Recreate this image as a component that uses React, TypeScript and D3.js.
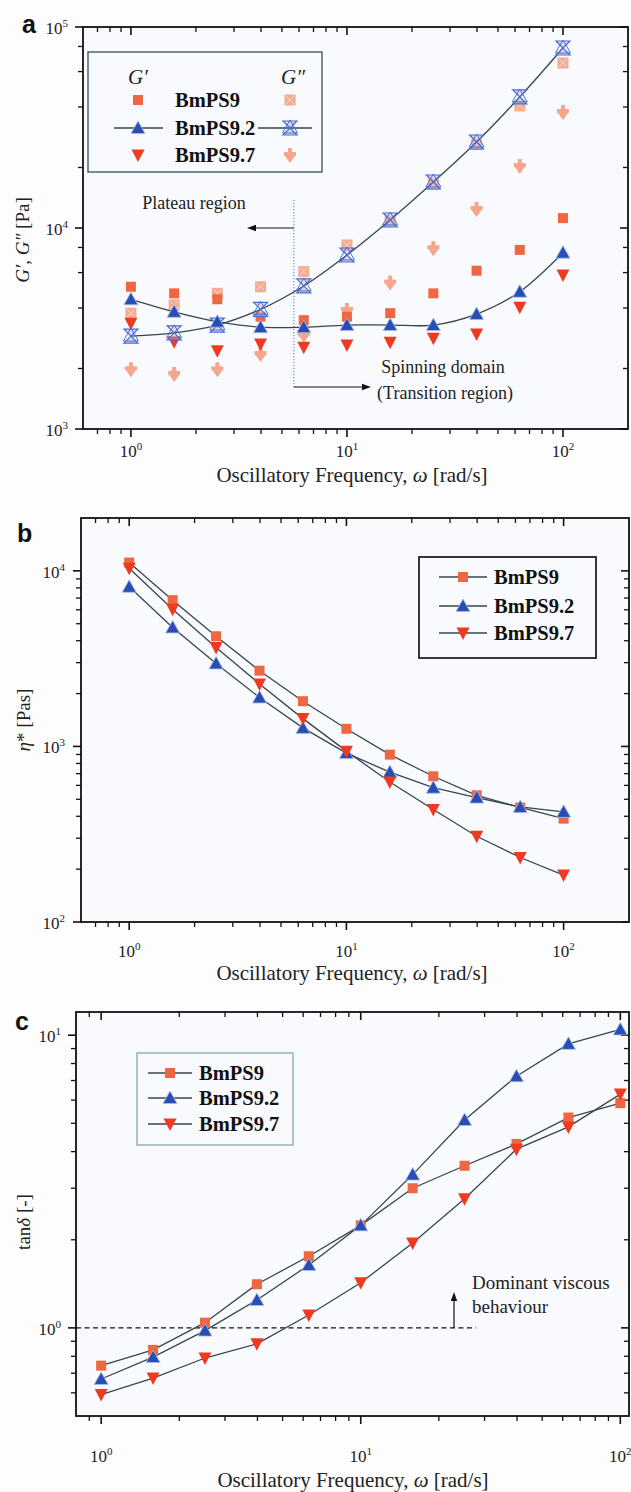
import React from 'react';
import * as d3 from 'd3';

// ---------- data ----------
const freq = [1, 1.585, 2.512, 3.981, 6.31, 10, 15.85, 25.12, 39.81, 63.1, 100];
const seriesNames = ['BmPS9', 'BmPS9.2', 'BmPS9.7'];

// panel a: G' and G''
const gp9 = [5100, 4730, 4420, 3620, 3480, 3620, 3770, 4730, 6130, 7780, 11200];
const gpp9 = [3770, 4140, 4730, 5100, 6070, 8230, 10800, 16500, 26000, 40500, 66200];
const gp92 = [4420, 3830, 3420, 3210, 3210, 3290, 3290, 3290, 3730, 4820, 7540];
const gpp92 = [2900, 3010, 3290, 3940, 5150, 7340, 10960, 16940, 26780, 44870, 78600];
const gp97 = [3360, 2720, 2450, 2650, 2550, 2620, 2700, 2830, 2970, 4030, 5840];
const gpp97 = [1980, 1880, 1980, 2360, 2940, 3910, 5350, 7930, 12430, 20330, 37760];

// panel b: complex viscosity
const eta9 = [11150, 6810, 4240, 2700, 1810, 1260, 898, 676, 527, 449, 388];
const eta92 = [8110, 4760, 2970, 1900, 1275, 916, 714, 582, 511, 452, 424];
const eta97 = [10360, 6050, 3660, 2270, 1440, 940, 627, 437, 308, 233, 185];

// panel c: tan delta
const tan9 = [0.743, 0.841, 1.042, 1.41, 1.757, 2.24, 3.0, 3.58, 4.25, 5.23, 5.86];
const tan92 = [0.669, 0.795, 0.979, 1.245, 1.64, 2.24, 3.34, 5.13, 7.24, 9.34, 10.46];
const tan97 = [0.592, 0.674, 0.789, 0.882, 1.107, 1.426, 1.95, 2.76, 4.08, 4.86, 6.29];

const xLabel = 'Oscillatory Frequency, ';
const annPlateau = 'Plateau region';
const annSpin1 = 'Spinning domain';
const annSpin2 = '(Transition region)';
const annVisc1 = 'Dominant viscous';
const annVisc2 = 'behaviour';

// ---------- styles ----------
const SERIF = "'Liberation Serif','Times New Roman',serif";
const SANS = "'Liberation Sans',Arial,sans-serif";
const LINE = '#35474d';
const C_SQ = '#ef6742';
const C_SQL = '#f5aa92';
const C_TRI = '#2a4db3';
const C_DN = '#ef3a22';
const C_DNL = '#f4a58c';
const C_STAR = '#3f6fd6';

type Box = { l: number; r: number; t: number; b: number };

function majors(dom: number[]) {
  const out: number[] = [];
  for (let e = Math.ceil(Math.log10(dom[0]) - 1e-9); e <= Math.floor(Math.log10(dom[1]) + 1e-9); e++) out.push(Math.pow(10, e));
  return out;
}
function minors(dom: number[], mults: number[]) {
  const out: number[] = [];
  for (let e = Math.floor(Math.log10(dom[0])) - 1; e <= Math.ceil(Math.log10(dom[1])); e++) {
    for (const m of mults) {
      const v = m * Math.pow(10, e);
      if (v >= dom[0] * 1.001 && v <= dom[1] * 0.999) out.push(v);
    }
  }
  return out;
}

function Marker({ kind, x, y }: { kind: string; x: number; y: number }) {
  if (kind === 'sq') return <rect x={x - 5} y={y - 5} width={10} height={10} fill={C_SQ} />;
  if (kind === 'sqL')
    return (
      <g>
        <rect x={x - 5.5} y={y - 5.5} width={11} height={11} fill={C_SQL} />
        <path d={`M${x - 4},${y - 4}L${x + 4},${y + 4}M${x + 4},${y - 4}L${x - 4},${y + 4}`} stroke="#fbd8cc" strokeWidth={1} />
      </g>
    );
  if (kind === 'up')
    return <path d={`M${x},${y - 7}L${x + 7},${y + 5.5}L${x - 7},${y + 5.5}Z`} fill={C_TRI} stroke="#a8bcef" strokeWidth={0.8} />;
  if (kind === 'dn')
    return <path d={`M${x - 6.5},${y - 5.5}L${x + 6.5},${y - 5.5}L${x},${y + 7}Z`} fill={C_DN} />;
  if (kind === 'dnL')
    return (
      <g fill={C_DNL}>
        <rect x={x - 6} y={y - 3} width={12} height={4} />
        <rect x={x - 2} y={y - 7} width={4} height={8} />
        <path d={`M${x - 5},${y + 1}L${x + 5},${y + 1}L${x},${y + 8}Z`} />
      </g>
    );
  if (kind === 'star')
    return (
      <g>
        <path d={`M${x - 7},${y - 7}L${x + 7},${y - 7}L${x - 7},${y + 7}L${x + 7},${y + 7}Z`} fill="#e8b8c8" fillOpacity={0.6} stroke={C_STAR} strokeWidth={1.2} />
        <path d={`M${x},${y - 8}L${x + 7.5},${y + 5}L${x - 7.5},${y + 5}Z`} fill="none" stroke={C_STAR} strokeWidth={1} />
      </g>
    );
  return null;
}

function TickLabel({ x, y, exp, anchor }: { x: number; y: number; exp: number; anchor: string }) {
  return (
    <text x={x} y={y} textAnchor={anchor} fontFamily={SERIF} fontSize={17} fill="#222">
      10<tspan dy={-7} fontSize={11}>{exp}</tspan>
    </text>
  );
}

function Axes({ box, xs, ys, xDom, yDom, yMults, xTickY, yTickX }: any) {
  const xMaj = majors(xDom);
  const xMin = minors(xDom, [2, 3, 4, 5, 6, 7, 8, 9]);
  const yMaj = majors(yDom);
  const yMin = minors(yDom, yMults);
  const M = 8;
  const m = 5;
  return (
    <g>
      <rect x={box.l} y={box.t} width={box.r - box.l} height={box.b - box.t} fill="#f9fafd" stroke="#111" strokeWidth={1.8} />
      {xMaj.map((v) => (
        <g key={'xM' + v}>
          <line x1={xs(v)} x2={xs(v)} y1={box.b} y2={box.b + M} stroke="#111" strokeWidth={1.6} />
          <line x1={xs(v)} x2={xs(v)} y1={box.t} y2={box.t + M} stroke="#111" strokeWidth={1.6} />
          <TickLabel x={xs(v)} y={xTickY} exp={Math.round(Math.log10(v))} anchor="middle" />
        </g>
      ))}
      {xMin.map((v) => (
        <g key={'xm' + v}>
          <line x1={xs(v)} x2={xs(v)} y1={box.b} y2={box.b + m} stroke="#111" strokeWidth={1.3} />
          <line x1={xs(v)} x2={xs(v)} y1={box.t} y2={box.t + m} stroke="#111" strokeWidth={1.3} />
        </g>
      ))}
      {yMaj.map((v) => (
        <g key={'yM' + v}>
          <line x1={box.l - M} x2={box.l} y1={ys(v)} y2={ys(v)} stroke="#111" strokeWidth={1.6} />
          <line x1={box.r - M} x2={box.r} y1={ys(v)} y2={ys(v)} stroke="#111" strokeWidth={1.6} />
          <TickLabel x={yTickX} y={ys(v) + 7} exp={Math.round(Math.log10(v))} anchor="end" />
        </g>
      ))}
      {yMin.map((v) => (
        <g key={'ym' + v}>
          <line x1={box.l - m} x2={box.l} y1={ys(v)} y2={ys(v)} stroke="#111" strokeWidth={1.3} />
          <line x1={box.r - m} x2={box.r} y1={ys(v)} y2={ys(v)} stroke="#111" strokeWidth={1.3} />
        </g>
      ))}
    </g>
  );
}

function XTitle({ x, y }: { x: number; y: number }) {
  return (
    <text x={x} y={y} textAnchor="middle" fontFamily={SERIF} fontSize={21} fill="#222">
      {xLabel}
      <tspan fontStyle="italic">ω</tspan> [rad/s]
    </text>
  );
}

function Arrow({ x1, y1, x2, y2 }: { x1: number; y1: number; x2: number; y2: number }) {
  const ang = Math.atan2(y2 - y1, x2 - x1);
  const L = 9, W = 3.2;
  const bx = x2 - L * Math.cos(ang), by = y2 - L * Math.sin(ang);
  const px = -Math.sin(ang) * W, py = Math.cos(ang) * W;
  return (
    <g>
      <line x1={x1} y1={y1} x2={bx} y2={by} stroke="#111" strokeWidth={1.2} />
      <path d={`M${x2},${y2}L${bx + px},${by + py}L${bx - px},${by - py}Z`} fill="#111" />
    </g>
  );
}

function PanelA() {
  const box: Box = { l: 83, r: 628, t: 27, b: 429 };
  const xDom = [0.6, 200];
  const yDom = [1e3, 1e5];
  const xs = d3.scaleLog().domain(xDom).range([box.l, box.r]);
  const ys = d3.scaleLog().domain(yDom).range([box.b, box.t]);
  const line = d3.line<number>().x((_, i) => xs(freq[i])).y((d) => ys(d)).curve(d3.curveCatmullRom.alpha(0.5));
  const scatter: [number[], string][] = [
    [gpp97, 'dnL'],
    [gpp9, 'sqL'],
    [gp9, 'sq'],
    [gp97, 'dn'],
  ];
  const vx = xs(5.68);
  return (
    <g>
      <Axes box={box} xs={xs} ys={ys} xDom={xDom} yDom={yDom} yMults={[2, 4, 6, 8]} xTickY={457} yTickX={68} />
      <line x1={vx} x2={vx} y1={200} y2={387} stroke="#4d6fe0" strokeWidth={1} strokeDasharray="1.2,1.8" />
      <Arrow x1={vx} y1={228} x2={247} y2={228} />
      <Arrow x1={vx} y1={387} x2={371} y2={387} />
      <text x={194} y={209} textAnchor="middle" fontFamily={SERIF} fontSize={18} fill="#222">{annPlateau}</text>
      <text x={443} y={373} textAnchor="middle" fontFamily={SERIF} fontSize={18} fill="#222">{annSpin1}</text>
      <text x={445} y={399} textAnchor="middle" fontFamily={SERIF} fontSize={18} fill="#222">{annSpin2}</text>
      {scatter.map(([arr, k]) => arr.map((v, i) => <Marker key={k + i} kind={k} x={xs(freq[i])} y={ys(v)} />))}
      <path d={line(gp92) || ''} fill="none" stroke={LINE} strokeWidth={1.3} />
      <path d={line(gpp92) || ''} fill="none" stroke={LINE} strokeWidth={1.3} />
      {gpp92.map((v, i) => <Marker key={'st' + i} kind="star" x={xs(freq[i])} y={ys(v)} />)}
      {gp92.map((v, i) => <Marker key={'up' + i} kind="up" x={xs(freq[i])} y={ys(v)} />)}
      {/* legend */}
      <rect x={88} y={52} width={234} height={120} fill="#f9fafd" stroke="#4f6468" strokeWidth={1.5} />
      <text x={138} y={84} textAnchor="middle" fontFamily={SERIF} fontStyle="italic" fontSize={21} fill="#222">G′</text>
      <text x={293} y={84} textAnchor="middle" fontFamily={SERIF} fontStyle="italic" fontSize={21} fill="#222">G″</text>
      <line x1={114} x2={163} y1={128} y2={128} stroke={LINE} strokeWidth={1.3} />
      <line x1={258} x2={312} y1={128} y2={128} stroke={LINE} strokeWidth={1.3} />
      {[['sq', 'sqL'], ['up', 'star'], ['dn', 'dnL']].map(([a, b], i) => {
        const y = [100, 128, 155][i];
        return (
          <g key={'lg' + i}>
            <Marker kind={a} x={138} y={y} />
            <Marker kind={b} x={290} y={y} />
            <text x={175} y={y + 7} fontFamily={SERIF} fontWeight="bold" fontSize={20.5} fill="#111">{seriesNames[i]}</text>
          </g>
        );
      })}
      <text x={22} y={33} fontFamily={SANS} fontWeight="bold" fontSize={25} fill="#111">a</text>
      <text transform="translate(29,240) rotate(-90)" textAnchor="middle" fontFamily={SERIF} fontSize={19} fill="#222">
        <tspan fontStyle="italic">G′</tspan>, <tspan fontStyle="italic">G″</tspan> [Pa]
      </text>
      <XTitle x={352} y={482} />
    </g>
  );
}

function SeriesLines({ xs, ys, data }: any) {
  const line = d3.line<number>().x((_, i) => xs(freq[i])).y((d) => ys(d));
  const kinds = ['sq', 'up', 'dn'];
  return (
    <g>
      {data.map((arr: number[], s: number) => (
        <path key={'l' + s} d={line(arr) || ''} fill="none" stroke={LINE} strokeWidth={1.3} />
      ))}
      {data.map((arr: number[], s: number) =>
        arr.map((v, i) => <Marker key={'m' + s + '-' + i} kind={kinds[s]} x={xs(freq[i])} y={ys(v)} />)
      )}
    </g>
  );
}

function Legend({ x, y, w, h, mx, lx1, lx2, tx, rows, stroke, sw }: any) {
  const kinds = ['sq', 'up', 'dn'];
  return (
    <g>
      <rect x={x} y={y} width={w} height={h} fill="#f9fafd" stroke={stroke} strokeWidth={sw} />
      {rows.map((ry: number, i: number) => (
        <g key={'r' + i}>
          <line x1={lx1} x2={lx2} y1={ry} y2={ry} stroke={LINE} strokeWidth={1.3} />
          <Marker kind={kinds[i]} x={mx} y={ry} />
          <text x={tx} y={ry + 7} fontFamily={SERIF} fontWeight="bold" fontSize={20.5} fill="#111">{seriesNames[i]}</text>
        </g>
      ))}
    </g>
  );
}

function PanelB() {
  const box: Box = { l: 81, r: 629, t: 518, b: 922 };
  const xDom = [0.6, 200];
  const yDom = [100, 20000];
  const xs = d3.scaleLog().domain(xDom).range([box.l, box.r]);
  const ys = d3.scaleLog().domain(yDom).range([box.b, box.t]);
  return (
    <g>
      <Axes box={box} xs={xs} ys={ys} xDom={xDom} yDom={yDom} yMults={[2, 3, 4, 5, 6, 7, 8, 9]} xTickY={957} yTickX={65} />
      <SeriesLines xs={xs} ys={ys} data={[eta9, eta92, eta97]} />
      <Legend x={419} y={557} w={177} h={101} mx={463} lx1={439} lx2={487} tx={494} rows={[577, 606, 633]} stroke="#222" sw={1.8} />
      <text x={17} y={542} fontFamily={SANS} fontWeight="bold" fontSize={25} fill="#111">b</text>
      <text transform="translate(30,720) rotate(-90)" textAnchor="middle" fontFamily={SERIF} fontSize={19} fill="#222">
        <tspan fontStyle="italic">η</tspan>* [Pas]
      </text>
      <XTitle x={352} y={980} />
    </g>
  );
}

function PanelC() {
  const box: Box = { l: 76, r: 629, t: 1012, b: 1416 };
  const xDom = [0.8, 108];
  const yDom = [0.5, 12];
  const xs = d3.scaleLog().domain(xDom).range([box.l, box.r]);
  const ys = d3.scaleLog().domain(yDom).range([box.b, box.t]);
  const y1 = ys(1);
  return (
    <g>
      <Axes box={box} xs={xs} ys={ys} xDom={xDom} yDom={yDom} yMults={[2, 3, 4, 5, 6, 7, 8, 9]} xTickY={1462} yTickX={61} />
      <line x1={box.l} x2={476} y1={y1} y2={y1} stroke="#111" strokeWidth={1.3} strokeDasharray="5,3.5" />
      <Arrow x1={454} y1={y1} x2={454} y2={1292} />
      <text x={472} y={1289} fontFamily={SERIF} fontSize={19} fill="#222">{annVisc1}</text>
      <text x={472} y={1313} fontFamily={SERIF} fontSize={19} fill="#222">{annVisc2}</text>
      <SeriesLines xs={xs} ys={ys} data={[tan9, tan92, tan97]} />
      <Legend x={137} y={1053} w={156} h={92} mx={170} lx1={148} lx2={192} tx={199} rows={[1073, 1098, 1124]} stroke="#78a2b4" sw={1.2} />
      <text x={15} y={1030} fontFamily={SANS} fontWeight="bold" fontSize={25} fill="#111">c</text>
      <text transform="translate(30,1222) rotate(-90)" textAnchor="middle" fontFamily={SERIF} fontSize={19} fill="#222">
        tan<tspan fontStyle="italic">δ</tspan> [-]
      </text>
      <XTitle x={353} y={1487} />
    </g>
  );
}

export default function App() {
  return (
    <svg width={631} height={1492} style={{ position: 'absolute', left: 0, top: 0, background: '#fdfdfe' }}>
      <PanelA />
      <PanelB />
      <PanelC />
    </svg>
  );
}
